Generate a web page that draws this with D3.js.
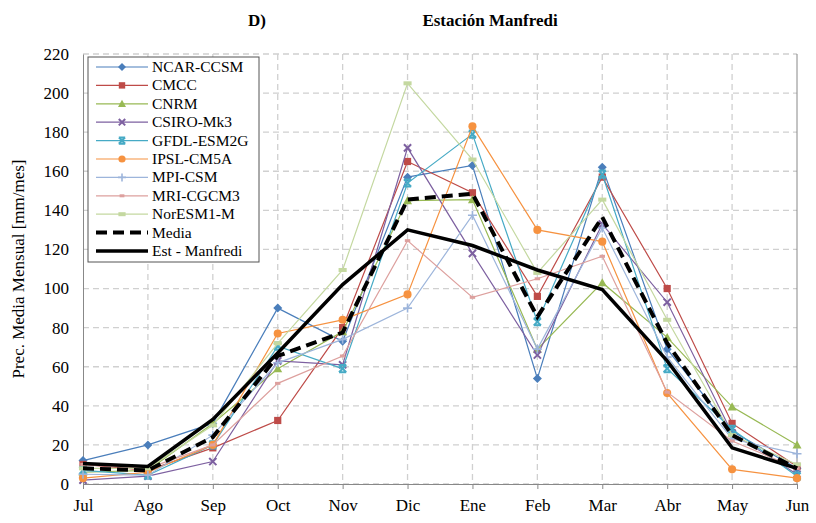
<!DOCTYPE html>
<html>
<head>
<meta charset="utf-8">
<script src="https://cdn.jsdelivr.net/npm/d3@7"></script>
<style>
  body { margin: 0; background: #fff; }
  text { font-family: "Liberation Serif", "Times New Roman", serif; fill: #000; }
</style>
</head>
<body>
<div id="chart"></div>
<script>
var svgWidth = 816;
var svgHeight = 523;

var months = ["Jul", "Ago", "Sep", "Oct", "Nov", "Dic", "Ene", "Feb", "Mar", "Abr", "May", "Jun"];
var yTicks = [0, 20, 40, 60, 80, 100, 120, 140, 160, 180, 200, 220];

// model series (mm/mes)
var ncarCcsm  = [12, 20, 31, 90, 73, 157, 163, 54, 162, 69, 27, 8];
var cmcc      = [10, 7, 18.5, 32.5, 80, 165, 149, 96, 157, 100, 31, 9];
var cnrm      = [6, 7, 31, 59, 78, 145, 145.5, 69, 103, 75, 39.5, 20];
var csiroMk3  = [2, 4, 11.5, 63, 61, 172, 118, 66, 133, 93, 26, 5];
var gfdl      = [7, 4.5, 20, 70.5, 59, 154, 179, 83, 158.5, 59, 28, 4];
var ipsl      = [3, 6, 20, 77, 84, 97, 183, 130, 124, 46.5, 7.5, 3];
var mpiCsm    = [5, 4.5, 25, 62, 74, 90, 137.5, 69, 131, 65, 23, 15.5];
var mriCgcm3  = [10, 8, 20, 51.5, 65.5, 124.5, 95.5, 105, 116.5, 47, 22, 8];
var noresm    = [8, 8, 30, 72, 109.5, 205, 166, 108, 145.5, 84, 25, 10];
var media     = [8, 7, 24, 65.5, 77.5, 145.5, 148.5, 85.5, 136.5, 72, 25, 8];
var estManfredi = [10.5, 9, 33, 67, 102, 130, 122, 109.5, 99.5, 63, 18.5, 8];

var series = [
  {name: "NCAR-CCSM",   values: ncarCcsm, color: "#4A7EBB", marker: "diamond"},
  {name: "CMCC",        values: cmcc,     color: "#BE4B48", marker: "square"},
  {name: "CNRM",        values: cnrm,     color: "#98B954", marker: "triangle"},
  {name: "CSIRO-Mk3",   values: csiroMk3, color: "#7D60A0", marker: "x"},
  {name: "GFDL-ESM2G",  values: gfdl,     color: "#46AAC5", marker: "star"},
  {name: "IPSL-CM5A",   values: ipsl,     color: "#F69240", marker: "circle"},
  {name: "MPI-CSM",     values: mpiCsm,   color: "#9DB5DB", marker: "plus"},
  {name: "MRI-CGCM3",   values: mriCgcm3, color: "#DDA09E", marker: "dash"},
  {name: "NorESM1-M",   values: noresm,   color: "#C4D8A0", marker: "wdash"},
  {name: "Media",       values: media,    color: "#000", marker: null, width: 4, dash: "11,6"},
  {name: "Est - Manfredi", values: estManfredi, color: "#000", marker: null, width: 3.5}
];

var margin = {top: 54, right: 19, bottom: 39, left: 83};
var width = svgWidth - margin.left - margin.right;
var height = svgHeight - margin.top - margin.bottom;

var svg = d3.select("#chart").append("svg")
  .attr("width", svgWidth)
  .attr("height", svgHeight);

var chartGroup = svg.append("g")
  .attr("transform", `translate(${margin.left}, ${margin.top})`);

var xScale = d3.scalePoint().domain(months).range([0, width]);
var yScale = d3.scaleLinear().domain([0, 220]).range([height, 0]);

// gridlines
chartGroup.append("g").selectAll("line")
  .data(yTicks)
  .enter()
  .append("line")
  .attr("x1", 0).attr("x2", width)
  .attr("y1", d => yScale(d)).attr("y2", d => yScale(d))
  .attr("stroke", "#d0d0d0")
  .attr("stroke-width", 1.3)
  .attr("stroke-dasharray", "6,4");

chartGroup.append("g").selectAll("line")
  .data(months.slice(1, -1))
  .enter()
  .append("line")
  .attr("x1", d => xScale(d)).attr("x2", d => xScale(d))
  .attr("y1", 0).attr("y2", height)
  .attr("stroke", "#d0d0d0")
  .attr("stroke-width", 1.3)
  .attr("stroke-dasharray", "6,4");

// axes
var leftAxis = d3.axisLeft(yScale).tickValues(yTicks).tickSize(0).tickPadding(14);
var bottomAxis = d3.axisBottom(xScale).tickSize(5).tickPadding(10);

var yAxis = chartGroup.append("g").call(leftAxis);
yAxis.select(".domain").attr("stroke", "#888");
yAxis.selectAll("text").style("font-size", "17px");

var xAxis = chartGroup.append("g")
  .attr("transform", `translate(0, ${height})`)
  .call(bottomAxis);
xAxis.select(".domain").attr("stroke", "#888");
xAxis.selectAll(".tick line").attr("stroke", "#888");
xAxis.selectAll("text").style("font-size", "17px");

// right edge line
chartGroup.append("line")
  .attr("x1", width).attr("x2", width)
  .attr("y1", 0).attr("y2", height)
  .attr("stroke", "#888");

// marker drawing
function drawMarker(g, type, color, s) {
  if (type === "diamond") {
    g.append("path").attr("d", `M0,${-s}L${s},0L0,${s}L${-s},0Z`).attr("fill", color);
  } else if (type === "square") {
    g.append("rect").attr("x", -s * 0.8).attr("y", -s * 0.8)
      .attr("width", s * 1.6).attr("height", s * 1.6).attr("fill", color);
  } else if (type === "triangle") {
    g.append("path").attr("d", `M0,${-s}L${s},${s * 0.8}L${-s},${s * 0.8}Z`).attr("fill", color);
  } else if (type === "circle") {
    g.append("circle").attr("r", s * 0.9).attr("fill", color);
  } else if (type === "x") {
    g.append("path").attr("d", `M${-s * 0.8},${-s * 0.8}L${s * 0.8},${s * 0.8}M${-s * 0.8},${s * 0.8}L${s * 0.8},${-s * 0.8}`)
      .attr("stroke", color).attr("stroke-width", 2);
  } else if (type === "star") {
    g.append("path").attr("d", `M${-s * 0.8},${-s * 0.8}L${s * 0.8},${s * 0.8}M${-s * 0.8},${s * 0.8}L${s * 0.8},${-s * 0.8}M${-s * 0.8},${-s * 0.8}L${s * 0.8},${-s * 0.8}M${-s * 0.8},${s * 0.8}L${s * 0.8},${s * 0.8}`)
      .attr("stroke", color).attr("stroke-width", 2);
  } else if (type === "plus") {
    g.append("path").attr("d", `M${-s},0L${s},0M0,${-s}L0,${s}`)
      .attr("stroke", color).attr("stroke-width", 1.6);
  } else if (type === "dash") {
    g.append("rect").attr("x", -s * 0.6).attr("y", -1.5).attr("width", s * 1.2).attr("height", 3).attr("fill", color);
  } else if (type === "wdash") {
    g.append("rect").attr("x", -s * 0.9).attr("y", -2).attr("width", s * 1.8).attr("height", 4).attr("fill", color);
  }
}

var line = d3.line()
  .x((d, i) => xScale(months[i]))
  .y(d => yScale(d));

series.forEach(function(s) {
  chartGroup.append("path")
    .datum(s.values)
    .attr("d", line)
    .attr("fill", "none")
    .attr("stroke", s.color)
    .attr("stroke-width", s.width || 1.2)
    .attr("stroke-dasharray", s.dash || null);

  if (s.marker) {
    s.values.forEach(function(v, i) {
      var g = chartGroup.append("g")
        .attr("transform", `translate(${xScale(months[i])}, ${yScale(v)})`);
      drawMarker(g, s.marker, s.color, 4.5);
    });
  }
});

// legend
var legend = svg.append("g").attr("transform", "translate(88, 57)");
legend.append("rect")
  .attr("width", 171).attr("height", 205)
  .attr("fill", "#fff").attr("stroke", "#555");

series.forEach(function(s, i) {
  var y = 10 + i * 18.4;
  var item = legend.append("g").attr("transform", `translate(0, ${y})`);
  item.append("line")
    .attr("x1", 8).attr("x2", 60)
    .attr("stroke", s.color)
    .attr("stroke-width", s.width || 1.2)
    .attr("stroke-dasharray", s.dash || null);
  if (s.marker) {
    var g = item.append("g").attr("transform", "translate(34, 0)");
    drawMarker(g, s.marker, s.color, 4);
  }
  item.append("text")
    .attr("x", 64).attr("y", 5)
    .style("font-size", "15.5px")
    .text(s.name);
});

// titles
svg.append("text")
  .attr("x", 257).attr("y", 26)
  .attr("text-anchor", "middle")
  .style("font-size", "17px").style("font-weight", "bold")
  .text("D)");

svg.append("text")
  .attr("x", 490).attr("y", 26)
  .attr("text-anchor", "middle")
  .style("font-size", "17px").style("font-weight", "bold")
  .text("Estación Manfredi");

svg.append("text")
  .attr("transform", `translate(24, ${margin.top + height / 2}) rotate(-90)`)
  .attr("text-anchor", "middle")
  .style("font-size", "17px")
  .text("Prec. Media Mensual [mm/mes]");
</script>
</body>
</html>
